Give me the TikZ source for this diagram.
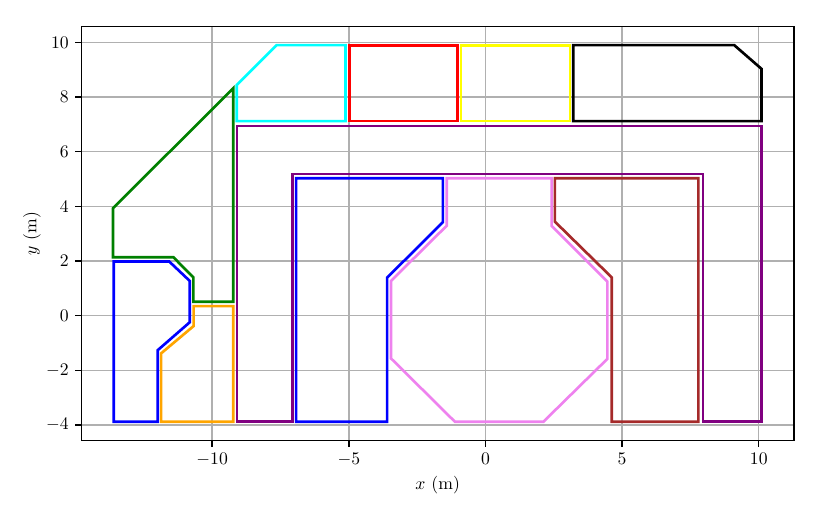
\documentclass[tikz,border=0pt]{standalone}
\usepackage{tikz}
\definecolor{mgrid}{HTML}{B0B0B0}
\definecolor{mgreen}{HTML}{008000}
\definecolor{mblue}{HTML}{0000FF}
\definecolor{morange}{HTML}{FFA500}
\definecolor{mpurple}{HTML}{800080}
\definecolor{mcyan}{HTML}{00FFFF}
\definecolor{mred}{HTML}{FF0000}
\definecolor{myellow}{HTML}{FFFF00}
\definecolor{mviolet}{HTML}{EE82EE}
\definecolor{mbrown}{HTML}{A52A2A}
\begin{document}
\begin{tikzpicture}[x=15.472pt, y=15.472pt,
  gridline/.style={draw=mgrid, line width=0.8pt},
  poly/.style={line width=1.5pt, line join=miter},
  frame/.style={draw=black, line width=0.8pt},
  tickmark/.style={draw=black, line width=0.8pt},
  ticklab/.style={inner sep=0pt, font=\normalsize}]
\useasboundingbox (-17.764,-7.073) rectangle (12.020,11.551);
\def\xa{-14.785}\def\xb{11.285}\def\ya{-4.565}\def\yb{10.585}
% grid
\foreach \gx in {-10,-5,0,5,10} \draw[gridline] (\gx,\ya) -- (\gx,\yb);
\foreach \gy in {-4,-2,0,2,4,6,8,10} \draw[gridline] (\xa,\gy) -- (\xb,\gy);
% polygons
\draw[poly, mgreen] (-13.63,3.93) -- (-9.23,8.32) -- (-9.23,0.51) -- (-10.69,0.51) -- (-10.69,1.40) -- (-11.42,2.14) -- (-13.63,2.14) -- cycle;
\draw[poly, mblue] (-13.6,1.98) -- (-11.57,1.98) -- (-10.82,1.27) -- (-10.82,-0.24) -- (-11.99,-1.26) -- (-11.99,-3.88) -- (-13.6,-3.88) -- cycle;
\draw[poly, morange] (-10.68,0.35) -- (-9.23,0.35) -- (-9.23,-3.88) -- (-11.87,-3.88) -- (-11.87,-1.38) -- (-10.68,-0.38) -- cycle;
\draw[poly, mpurple] (-9.09,6.94) -- (10.1,6.94) -- (10.1,-3.88) -- (7.96,-3.88) -- (7.96,5.18) -- (-7.07,5.18) -- (-7.07,-3.88) -- (-9.09,-3.88) -- cycle;
\draw[poly, mcyan] (-9.1,8.44) -- (-7.64,9.9) -- (-5.12,9.9) -- (-5.12,7.12) -- (-9.1,7.12) -- cycle;
\draw[poly, mred] (-4.98,9.88) rectangle (-1.02,7.12);
\draw[poly, myellow] (-0.9,9.88) rectangle (3.09,7.12);
\draw[poly, black] (3.21,9.9) -- (9.1,9.9) -- (10.1,9.03) -- (10.1,7.12) -- (3.21,7.12) -- cycle;
\draw[poly, mblue] (-6.93,5.03) -- (-1.56,5.03) -- (-1.56,3.42) -- (-3.6,1.39) -- (-3.6,-3.88) -- (-6.93,-3.88) -- cycle;
\draw[poly, mviolet] (-1.42,5.03) -- (2.42,5.03) -- (2.42,3.29) -- (4.46,1.25) -- (4.46,-1.58) -- (2.12,-3.88) -- (-1.12,-3.88) -- (-3.46,-1.56) -- (-3.46,1.27) -- (-1.42,3.29) -- cycle;
\draw[poly, mbrown] (2.54,5.03) -- (7.79,5.03) -- (7.79,-3.88) -- (4.62,-3.88) -- (4.62,1.40) -- (2.54,3.44) -- cycle;
% frame
\draw[frame] (\xa,\ya) rectangle (\xb,\yb);
% ticks and labels
\foreach \gx/\lab in {-10/$-10$,-5/$-5$,0/$0$,5/$5$,10/$10$} {
  \draw[tickmark] (\gx,\ya) -- ++(0,-3.5pt);
  \node[ticklab, anchor=north] (xt\gx) at ([yshift=-7pt]\gx,\ya) {\lab};
}
\foreach \gy/\lab in {-4/$-4$,-2/$-2$,0/$0$,2/$2$,4/$4$,6/$6$,8/$8$,10/$10$} {
  \draw[tickmark] (\xa,\gy) -- ++(-3.5pt,0);
  \node[ticklab, anchor=east] (yt\gy) at ([xshift=-7pt]\xa,\gy) {\lab};
}
\node[ticklab] (xlab) at (-1.75,-6.195) {$x$ (m)};
\node[ticklab, rotate=90] (ylab) at (-16.59,3.01) {$y$ (m)};
\end{tikzpicture}
\end{document}
